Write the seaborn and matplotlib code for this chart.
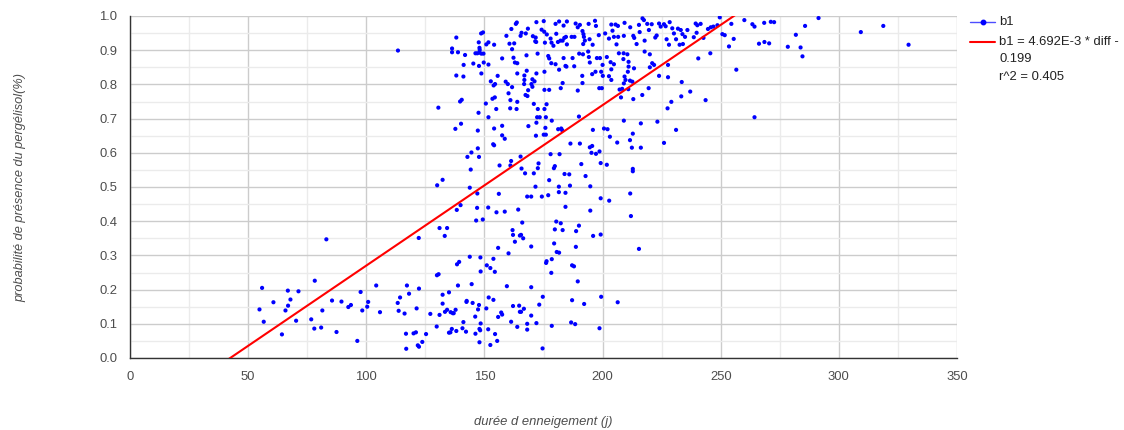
import numpy as np
import pandas as pd
import matplotlib
matplotlib.use("Agg")
import matplotlib.pyplot as plt
from matplotlib.lines import Line2D
from matplotlib.ticker import MultipleLocator, FormatStrFormatter
import seaborn as sns

# ---------------- data ----------------
snow_days = [
    113.4, 83.1, 122.2, 55.9, 54.8, 56.6, 60.7, 64.3, 66.8, 67.9, 66.9, 65.8, 71.3, 70.3, 78.2, 76.7, 78.0, 80.9, 81.4, 85.5,
    87.4, 89.5, 92.4, 93.5, 96.2, 97.6, 98.3, 100.4, 100.8, 104.2, 105.8, 113.3, 114.3, 113.7, 116.2, 117.2, 118.1, 121.3, 122.3, 116.8,
    120.0, 121.0, 116.9, 121.8, 122.3,
    163.7, 163.3, 161.4, 165.3, 159.3, 149.4, 148.6, 138.1, 136.3, 136.3, 138.8, 141.8, 146.2, 147.0, 148.0, 147.9, 147.9, 148.7, 149.6, 147.6,
    150.8, 151.7, 154.1, 160.6, 161.7, 162.6, 157.5, 162.3, 162.9, 163.9, 145.3, 147.7, 149.7, 151.7, 141.2, 148.7, 138.1, 141.1, 163.9, 152.7,
    155.6, 154.5, 153.9, 159.0, 159.9, 161.7, 160.2, 140.4, 139.7, 154.4, 153.4, 161.0, 163.9, 150.6, 163.6, 160.9, 155.0, 130.5, 147.5, 151.7,
    140.1, 137.7, 154.1, 157.5, 147.2, 157.5, 158.6, 153.7, 154.1, 144.5, 142.8, 147.2, 147.7, 144.2, 156.4, 161.0, 161.3, 165.3, 132.3,
    130.0, 143.8, 147.0, 156.1, 139.9, 138.3, 146.9, 151.6, 155.1, 158.6, 164.3, 146.5, 149.3, 131.0, 134.2, 133.2, 162.1, 161.9, 165.0, 162.9,
    155.8, 160.2, 143.8, 148.3, 153.8, 139.3, 138.4, 151.0, 152.5, 154.4, 148.4, 130.6, 129.9, 138.8, 144.6, 159.5, 135.0, 132.3, 151.8, 153.8,
    142.5, 142.4, 145.0, 147.7, 132.3, 150.8, 147.3, 162.1, 164.7, 134.2, 133.3, 135.7, 136.6, 137.8, 137.0, 157.1, 157.5, 155.8, 165.0, 127.1,
    131.0, 146.1, 141.1, 148.4, 161.3, 163.9, 129.8, 136.2, 135.6, 135.0, 138.1, 140.7, 142.2, 147.9, 148.2, 146.2, 151.6, 154.5, 125.3, 123.7,
    147.9, 155.4, 152.5,
    172.0, 175.1, 180.1, 181.6, 184.9, 183.5, 188.6, 189.5, 190.4, 194.1, 196.8, 197.2, 203.7, 205.5, 206.5,
    165.7, 168.4, 167.5, 170.5, 171.7, 171.5, 171.9, 174.2, 175.3, 175.6, 176.4, 178.0, 178.4, 179.2, 180.4, 181.1, 182.2, 183.1, 183.8, 184.5,
    184.9, 186.9, 188.1, 191.5, 191.9, 192.1, 192.5, 191.8, 194.5, 195.8, 198.4, 201.1, 202.7, 204.2, 204.8, 205.9, 206.6,
    167.8, 172.5, 177.0, 177.4, 178.3, 180.1, 181.6, 183.5, 184.3, 184.7, 187.3, 188.0, 190.1, 191.7, 193.9, 194.2, 194.6, 197.6, 198.9, 200.0,
    201.8, 203.4, 204.8, 206.9,
    167.9, 166.9, 166.9, 166.8, 167.4, 168.2, 168.5, 170.3, 171.2, 169.9, 170.3, 172.0, 175.4, 175.4, 177.4, 182.3, 183.1, 189.5, 191.5, 191.4,
    195.6, 197.0, 199.4, 198.6, 199.7, 200.1, 203.7, 202.7, 203.7, 207.2,
    170.9, 172.6, 175.4, 176.3, 172.3, 173.4, 176.0, 178.5, 172.0, 168.6, 175.8, 176.0, 175.1, 171.8, 181.2, 182.5, 182.9, 186.4, 190.4, 190.0,
    195.9, 200.6, 202.1, 203.1, 194.6, 195.6, 198.7, 195.3, 197.2, 206.2,
    172.9, 172.6, 170.9, 167.2, 165.7, 178.0, 181.8, 179.8, 179.4, 183.9, 185.9, 191.0, 199.2, 201.8, 177.4, 192.8,
    171.6, 181.5, 186.2, 194.8, 181.5, 184.3, 168.1, 169.8, 174.3, 177.0, 199.2, 202.8, 184.3, 194.8, 166.0, 180.4, 182.3, 179.8, 183.1, 190.0,
    188.8, 165.5, 166.4, 199.2, 196.0, 179.5, 188.7, 169.8, 180.6, 181.6, 178.5, 176.3, 176.1, 187.1, 187.9, 178.3, 189.5, 169.8, 174.7, 187.1,
    199.4, 192.2, 206.4, 173.2, 166.7, 165.5, 169.8, 172.0, 168.1, 168.1, 178.5, 186.7, 188.4, 198.7, 174.6,
    209.3, 211.7, 215.4, 216.9, 217.5, 218.9, 219.6, 220.8, 223.9, 224.6, 226.0, 226.7, 228.4, 229.5, 230.2, 231.9, 233.1, 233.8, 234.9, 235.9,
    239.4, 240.1, 241.5, 244.6, 245.8, 246.9, 248.6, 249.6,
    209.0, 213.0, 213.4, 214.4, 217.8, 215.7, 222.3, 222.9, 227.1, 228.1, 231.1, 232.6, 234.0, 238.6, 239.8, 242.7,
    208.9, 210.5, 208.8, 211.0, 211.0, 210.7, 213.3, 209.3, 209.7, 209.0, 208.3, 211.6, 212.6, 210.9, 207.8, 213.0, 216.8, 219.5, 217.8, 220.0,
    221.0, 221.8, 220.0, 223.9, 227.7, 227.7, 233.5, 237.1, 233.3, 229.1, 227.5, 240.5, 245.6, 243.6,
    209.0, 216.2, 223.2, 231.1, 212.8, 211.6, 212.4, 216.2, 226.0, 212.8, 212.8,
    211.7, 212.0, 215.4,
    254.5, 260.0, 263.4, 264.3, 268.4, 271.2, 272.6, 291.4, 285.7, 318.8, 309.3, 329.5, 250.7, 251.7, 255.5, 253.5, 266.2, 268.5, 270.5, 281.8,
    278.4, 283.8, 284.6, 256.6, 264.3,
]

presence_prob = [
    0.899, 0.347, 0.351, 0.205, 0.142, 0.106, 0.163, 0.069, 0.197, 0.171, 0.153, 0.139, 0.195, 0.109, 0.226, 0.113, 0.086, 0.089, 0.139, 0.168,
    0.076, 0.165, 0.149, 0.155, 0.050, 0.193, 0.139, 0.150, 0.164, 0.212, 0.134, 0.161, 0.177, 0.138, 0.130, 0.212, 0.188, 0.145, 0.203, 0.071,
    0.072, 0.075, 0.027, 0.037, 0.033,
    0.981, 0.977, 0.962, 0.942, 0.942, 0.952, 0.949, 0.937, 0.905, 0.894, 0.894, 0.886, 0.891, 0.891, 0.901, 0.907, 0.893, 0.890, 0.890, 0.923,
    0.917, 0.923, 0.916, 0.919, 0.903, 0.920, 0.876, 0.878, 0.864, 0.862, 0.861, 0.854, 0.864, 0.858, 0.857, 0.832, 0.826, 0.823, 0.832, 0.809,
    0.825, 0.801, 0.797, 0.808, 0.801, 0.792, 0.774, 0.755, 0.750, 0.762, 0.758, 0.754, 0.749, 0.744, 0.728, 0.730, 0.728, 0.732, 0.717, 0.704,
    0.685, 0.670, 0.671, 0.679, 0.665, 0.651, 0.641, 0.625, 0.622, 0.601, 0.588, 0.613, 0.588, 0.551, 0.563, 0.563, 0.576, 0.589, 0.521,
    0.505, 0.498, 0.481, 0.480, 0.447, 0.433, 0.439, 0.440, 0.426, 0.428, 0.434, 0.402, 0.405, 0.380, 0.380, 0.357, 0.360, 0.374, 0.358, 0.340,
    0.322, 0.306, 0.296, 0.294, 0.290, 0.281, 0.274, 0.271, 0.263, 0.252, 0.253, 0.245, 0.242, 0.212, 0.216, 0.210, 0.192, 0.185, 0.177, 0.170,
    0.167, 0.164, 0.161, 0.155, 0.159, 0.145, 0.142, 0.152, 0.153, 0.141, 0.135, 0.134, 0.131, 0.141, 0.131, 0.133, 0.127, 0.120, 0.135, 0.129,
    0.126, 0.121, 0.105, 0.101, 0.106, 0.091, 0.092, 0.085, 0.075, 0.074, 0.079, 0.087, 0.077, 0.085, 0.081, 0.071, 0.084, 0.070, 0.070, 0.047,
    0.046, 0.050, 0.038,
    0.982, 0.985, 0.977, 0.984, 0.984, 0.972, 0.978, 0.967, 0.974, 0.977, 0.986, 0.971, 0.975, 0.975, 0.971,
    0.951, 0.963, 0.949, 0.941, 0.937, 0.926, 0.924, 0.960, 0.954, 0.922, 0.946, 0.934, 0.922, 0.913, 0.948, 0.924, 0.928, 0.928, 0.936, 0.939,
    0.917, 0.939, 0.939, 0.956, 0.947, 0.939, 0.928, 0.918, 0.932, 0.916, 0.944, 0.949, 0.934, 0.957, 0.939, 0.917, 0.939,
    0.885, 0.890, 0.883, 0.876, 0.862, 0.859, 0.843, 0.877, 0.854, 0.852, 0.877, 0.853, 0.890, 0.888, 0.896, 0.880, 0.864, 0.877, 0.877, 0.857,
    0.880, 0.865, 0.859, 0.891,
    0.840, 0.826, 0.813, 0.801, 0.769, 0.766, 0.783, 0.815, 0.809, 0.801, 0.793, 0.832, 0.837, 0.784, 0.784, 0.789, 0.804, 0.782, 0.804, 0.825,
    0.830, 0.837, 0.837, 0.789, 0.789, 0.825, 0.844, 0.824, 0.813, 0.785,
    0.743, 0.728, 0.728, 0.742, 0.704, 0.704, 0.704, 0.694, 0.688, 0.678, 0.673, 0.653, 0.653, 0.650, 0.669, 0.671, 0.666, 0.627, 0.627, 0.706,
    0.667, 0.671, 0.669, 0.647, 0.616, 0.620, 0.604, 0.600, 0.597, 0.630,
    0.569, 0.555, 0.540, 0.540, 0.554, 0.596, 0.596, 0.561, 0.555, 0.538, 0.537, 0.567, 0.570, 0.565, 0.520, 0.532,
    0.501, 0.501, 0.504, 0.502, 0.485, 0.483, 0.472, 0.472, 0.472, 0.476, 0.467, 0.460, 0.442, 0.431, 0.396, 0.399, 0.394, 0.376, 0.374, 0.387,
    0.371, 0.360, 0.350, 0.361, 0.357, 0.335, 0.325, 0.326, 0.310, 0.308, 0.289, 0.283, 0.278, 0.271, 0.268, 0.249, 0.224, 0.207, 0.179, 0.169,
    0.179, 0.158, 0.163, 0.156, 0.144, 0.135, 0.124, 0.102, 0.100, 0.083, 0.094, 0.104, 0.099, 0.087, 0.028,
    0.980, 0.967, 0.974, 0.993, 0.988, 0.977, 0.959, 0.976, 0.978, 0.969, 0.976, 0.970, 0.982, 0.964, 0.949, 0.963, 0.959, 0.947, 0.939, 0.959,
    0.978, 0.973, 0.977, 0.962, 0.967, 0.969, 0.973, 0.996,
    0.942, 0.942, 0.936, 0.918, 0.928, 0.953, 0.937, 0.943, 0.932, 0.916, 0.932, 0.916, 0.918, 0.938, 0.951, 0.936,
    0.891, 0.888, 0.874, 0.866, 0.852, 0.837, 0.847, 0.823, 0.813, 0.803, 0.787, 0.811, 0.808, 0.786, 0.762, 0.757, 0.769, 0.789, 0.896, 0.888,
    0.862, 0.857, 0.850, 0.825, 0.857, 0.821, 0.807, 0.779, 0.765, 0.749, 0.730, 0.876, 0.891, 0.754,
    0.694, 0.686, 0.691, 0.667, 0.656, 0.637, 0.615, 0.615, 0.629, 0.553, 0.546,
    0.481, 0.415, 0.319,
    0.977, 0.988, 0.976, 0.969, 0.980, 0.983, 0.982, 0.994, 0.971, 0.971, 0.953, 0.916, 0.947, 0.944, 0.933, 0.911, 0.919, 0.924, 0.920, 0.945,
    0.910, 0.908, 0.882, 0.843, 0.704,
]

trend_slope = 4.692e-3
trend_intercept = -0.199
series_label = "b1"
trend_label = "b1 = 4.692E-3 * diff -\n0.199\nr^2 = 0.405"
x_title = "durée d enneigement (j)"
y_title = "probabilité de présence du pergélisol(%)"

# ---------------- figure ----------------
sns.set_theme(style="white")
plt.rcParams["font.family"] = ["Liberation Sans", "DejaVu Sans"]

W, H = 1124, 430
fig = plt.figure(figsize=(W / 100, H / 100), dpi=100)
ax = fig.add_axes([130 / W, 1 - 358 / H, (957 - 130) / W, (358 - 16) / H])

df = pd.DataFrame({"x": snow_days, "y": presence_prob})
sns.scatterplot(data=df, x="x", y="y", ax=ax, color="#0000ff", s=9,
                linewidth=0, edgecolor="none", zorder=3, legend=False)

x_range = np.array([0.0, 350.0])
trend_df = pd.DataFrame({"x": x_range, "y": trend_slope * x_range + trend_intercept})
sns.lineplot(data=trend_df, x="x", y="y", ax=ax, color="#ff0000", linewidth=1.5,
             zorder=4, legend=False)

ax.set_xlim(0, 350)
ax.set_ylim(0, 1)
ax.xaxis.set_major_locator(MultipleLocator(50))
ax.xaxis.set_minor_locator(MultipleLocator(25))
ax.yaxis.set_major_locator(MultipleLocator(0.1))
ax.yaxis.set_minor_locator(MultipleLocator(0.05))
ax.yaxis.set_major_formatter(FormatStrFormatter("%.1f"))
ax.grid(which="major", color="#cccccc", linewidth=1.0)
ax.grid(which="minor", color="#ebebeb", linewidth=1.0)
ax.set_axisbelow(True)
ax.tick_params(which="both", length=0, labelsize=9.4, labelcolor="#4d4d4d")
ax.tick_params(axis="y", pad=9)
ax.tick_params(axis="x", pad=9)
for s in ["top", "right"]:
    ax.spines[s].set_visible(False)
for s in ["left", "bottom"]:
    ax.spines[s].set_color("#333333")
    ax.spines[s].set_linewidth(1.0)
ax.set_xlabel("")
ax.set_ylabel("")

fig.text(543 / W, 1 - 422 / H, x_title, ha="center", va="center",
         fontsize=9.4, style="italic", color="#4d4d4d")
fig.text(20 / W, 1 - 187 / H, y_title, ha="center", va="center", rotation=90,
         fontsize=9.2, style="italic", color="#4d4d4d")

# legend (right side)
fig.add_artist(Line2D([970 / W, 995 / W], [1 - 21.7 / H, 1 - 21.7 / H],
                      transform=fig.transFigure, color="#4d4dff", linewidth=1.0))
fig.add_artist(Line2D([983 / W], [1 - 21.7 / H], transform=fig.transFigure,
                      marker="o", markersize=3.2, color="#0000ff", linestyle="none"))
fig.text(999 / W, 1 - 21.7 / H, series_label, ha="left", va="center",
         fontsize=9.4, color="#222222")
fig.add_artist(Line2D([970 / W, 995 / W], [1 - 41.7 / H, 1 - 41.7 / H],
                      transform=fig.transFigure, color="#ff0000", linewidth=1.5))
for i, line in enumerate(trend_label.split("\n")):
    fig.text(999 / W, 1 - (41.7 + 17.5 * i) / H, line, ha="left", va="center",
             fontsize=9.4, color="#222222")

fig.savefig("out.png", dpi=100)
